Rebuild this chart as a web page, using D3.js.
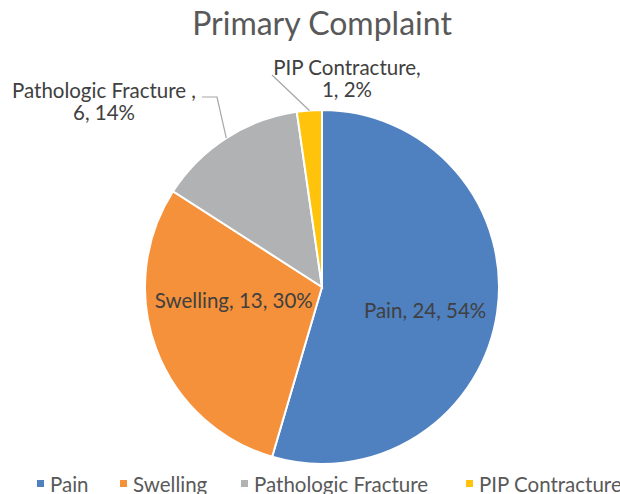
<!DOCTYPE html>
<html>
<head>
<meta charset="utf-8">
<script src="https://cdn.jsdelivr.net/npm/d3@7"></script>
<style>
  body { margin: 0; background: #fff; }
  svg { display: block; font-family: "Lato", sans-serif; }
</style>
</head>
<body>
<svg id="chart" width="620" height="494"></svg>
<script>
var categories = ["Pain", "Swelling", "Pathologic Fracture", "PIP Contracture"];
var counts = [24, 13, 6, 1];
var percentLabels = ["54%", "30%", "14%", "2%"];
var colors = ["#4f80c0", "#f5913a", "#b0b2b3", "#ffc30b"];

var width = 620, height = 494;
var cx = 322, cy = 287, radius = 177;

var svg = d3.select("#chart");

svg.append("text")
	.attr("x", 322)
	.attr("y", 35)
	.attr("text-anchor", "middle")
	.style("font-size", "32px")
	.style("fill", "#595959")
	.text("Primary Complaint");

var data = categories.map(function (c, i) {
	return { name: c, value: counts[i], pct: percentLabels[i], color: colors[i] };
});

var pie = d3.pie().sort(null).value(function (d) { return d.value; });
var arcs = pie(data);

var arc = d3.arc().innerRadius(0).outerRadius(radius);
var edge = d3.arc().innerRadius(radius).outerRadius(radius);

var g = svg.append("g").attr("transform", "translate(" + cx + "," + cy + ")");

g.selectAll("path.slice")
	.data(arcs)
	.enter()
	.append("path")
	.attr("class", "slice")
	.attr("d", arc)
	.style("fill", function (d) { return d.data.color; })
	.style("stroke", "#fff")
	.style("stroke-width", 2);

// labels inside the two big slices
var inside = {
	"Pain": { r: 0.6, dx: -2, dy: 8 },
	"Swelling": { r: 0.52, dx: -2, dy: -19 }
};
arcs.forEach(function (d) {
	var o = inside[d.data.name];
	if (!o) return;
	var c = d3.arc().innerRadius(radius * o.r).outerRadius(radius * o.r).centroid(d);
	g.append("text")
		.attr("x", c[0] + o.dx)
		.attr("y", c[1] + o.dy)
		.attr("text-anchor", "middle")
		.attr("dominant-baseline", "central")
		.style("font-size", "20.5px")
		.style("fill", "#404040")
		.text(d.data.name + ", " + d.data.value + ", " + d.data.pct);
});

// outside labels with leader lines
var outside = {
	"Pathologic Fracture": { elbow: [-105, -190], end: [-120, -190], tx: -218, ty: -189, l1: "Pathologic Fracture ,", l2: function (d) { return d.data.value + ", " + d.data.pct; } },
	"PIP Contracture": { elbow: null, end: [-50, -212], tx: 25, ty: -212, l1: "PIP Contracture,", l2: function (d) { return d.data.value + ",  " + d.data.pct; } }
};
arcs.forEach(function (d) {
	var o = outside[d.data.name];
	if (!o) return;
	var s = edge.centroid(d);
	var pts = [s];
	if (o.elbow) pts.push(o.elbow);
	pts.push(o.end);
	g.append("path")
		.attr("d", d3.line()(pts))
		.style("fill", "none")
		.style("stroke", "#a6a6a6")
		.style("stroke-width", 1.2);
	var t = g.append("text")
		.attr("text-anchor", "middle")
		.style("font-size", "20.5px")
		.style("fill", "#404040");
	t.append("tspan").attr("x", o.tx).attr("y", o.ty).text(o.l1);
	t.append("tspan").attr("x", o.tx).attr("y", o.ty + 22).text(o.l2(d));
});

// legend
var legendX = [37, 120, 241, 466];
var legend = svg.append("g");
data.forEach(function (d, i) {
	var item = legend.append("g").attr("transform", "translate(" + legendX[i] + ",0)");
	item.append("rect")
		.attr("x", 0)
		.attr("y", 480)
		.attr("width", 7)
		.attr("height", 7)
		.style("fill", d.color);
	item.append("text")
		.attr("x", 13)
		.attr("y", 492)
		.style("font-size", "20.5px")
		.style("fill", "#595959")
		.text(d.name);
});
</script>
</body>
</html>
